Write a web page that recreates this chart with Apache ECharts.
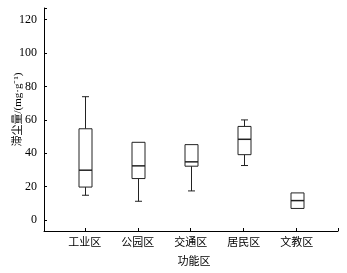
<!DOCTYPE html>
<html>
<head>
<meta charset="utf-8">
<script src="https://cdn.jsdelivr.net/npm/echarts@6/dist/echarts.min.js"></script>
<style>
  html, body { margin: 0; padding: 0; background: #fff; }
  #chart { width: 347px; height: 273px; }
</style>
</head>
<body>
<div id="chart"></div>
<script>
// 功能区 & 箱线图数据 (mg·g-1)
const categories = ['工业区', '公园区', '交通区', '居民区', '文教区'];
const minVals    = [14.9, 11.3, 17.5, 32.7, 7.0];
const q1Vals     = [19.8, 24.9, 32.3, 39.2, 7.0];
const medianVals = [29.9, 32.5, 34.9, 48.4, 11.7];
const q3Vals     = [54.7, 46.6, 45.2, 56.1, 16.3];
const maxVals    = [73.9, 46.6, 45.2, 60.0, 16.3];
const yTicks = [0, 20, 40, 60, 80, 100, 120];

const FONT = '"Liberation Serif", "Noto Sans CJK SC", serif';
const LINE = '#222';

const boxData = categories.map((c, i) => [i, minVals[i], q1Vals[i], medianVals[i], q3Vals[i], maxVals[i]]);

const chart = echarts.init(document.getElementById('chart'));

function renderBox(params, api) {
    const x = api.value(0);
    const pMin = api.coord([x, api.value(1)]);
    const pQ1 = api.coord([x, api.value(2)]);
    const pMed = api.coord([x, api.value(3)]);
    const pQ3 = api.coord([x, api.value(4)]);
    const pMax = api.coord([x, api.value(5)]);
    const cx = Math.round(pMed[0]) + 0.5;
    const hw = 6.5;   // demi-largeur boite
    const cw = 3.5;   // demi-largeur moustache
    const style = { stroke: LINE, lineWidth: 1, fill: null };
    const children = [];
    if (pQ3[1] - pMax[1] > 0.5) {
        children.push({ type: 'line', shape: { x1: cx, y1: pQ3[1], x2: cx, y2: pMax[1] }, style });
        children.push({ type: 'line', shape: { x1: cx - cw, y1: pMax[1], x2: cx + cw, y2: pMax[1] }, style });
    }
    if (pMin[1] - pQ1[1] > 0.5) {
        children.push({ type: 'line', shape: { x1: cx, y1: pQ1[1], x2: cx, y2: pMin[1] }, style });
        children.push({ type: 'line', shape: { x1: cx - cw, y1: pMin[1], x2: cx + cw, y2: pMin[1] }, style });
    }
    children.push({
        type: 'rect',
        shape: { x: cx - hw, y: pQ3[1], width: hw * 2, height: pQ1[1] - pQ3[1] },
        style: { stroke: LINE, lineWidth: 1, fill: '#fff' }
    });
    children.push({ type: 'line', shape: { x1: cx - hw, y1: pMed[1], x2: cx + hw, y2: pMed[1] }, style: { stroke: LINE, lineWidth: 1.5 } });
    return { type: 'group', children };
}

const option = {
    animation: false,
    grid: { left: 44, right: 9, top: 8, bottom: 40 },
    xAxis: {
        type: 'value',
        min: -0.77,
        max: 4.78,
        name: '功能区',
        nameLocation: 'middle',
        nameGap: 26,
        nameMoveOverlap: false,
        nameTextStyle: { fontFamily: FONT, fontSize: 11, color: '#000', padding: [0, 0, 0, 6] },
        splitLine: { show: false },
        axisLine: { onZero: false, lineStyle: { color: '#000', width: 1 } },
        axisTick: { inside: true, length: 3, lineStyle: { color: '#000' }, customValues: [0, 1, 2, 3, 4, 4.78] },
        axisLabel: {
            customValues: [0, 1, 2, 3, 4],
            formatter: v => categories[Math.round(v)] || '',
            fontFamily: FONT, fontSize: 11, color: '#000', margin: 7
        }
    },
    yAxis: {
        type: 'value',
        min: -6.5,
        max: 127,
        name: '滞尘量/(mg·g⁻¹)',
        nameLocation: 'middle',
        nameGap: 20,
        nameMoveOverlap: false,
        nameTextStyle: { fontFamily: FONT, fontSize: 11, color: '#000', padding: [0, 0, 0, 20] },
        splitLine: { show: false },
        axisLine: { show: true, onZero: false, lineStyle: { color: '#000', width: 1 } },
        axisTick: { show: true, inside: true, length: 3, lineStyle: { color: '#000' }, customValues: yTicks.concat([127]) },
        axisLabel: { customValues: yTicks, fontFamily: FONT, fontSize: 12, color: '#000', margin: 7 }
    },
    series: [{
        type: 'custom',
        renderItem: renderBox,
        encode: { x: 0, y: [1, 2, 3, 4, 5] },
        data: boxData
    }]
};

chart.setOption(option);
</script>
</body>
</html>
